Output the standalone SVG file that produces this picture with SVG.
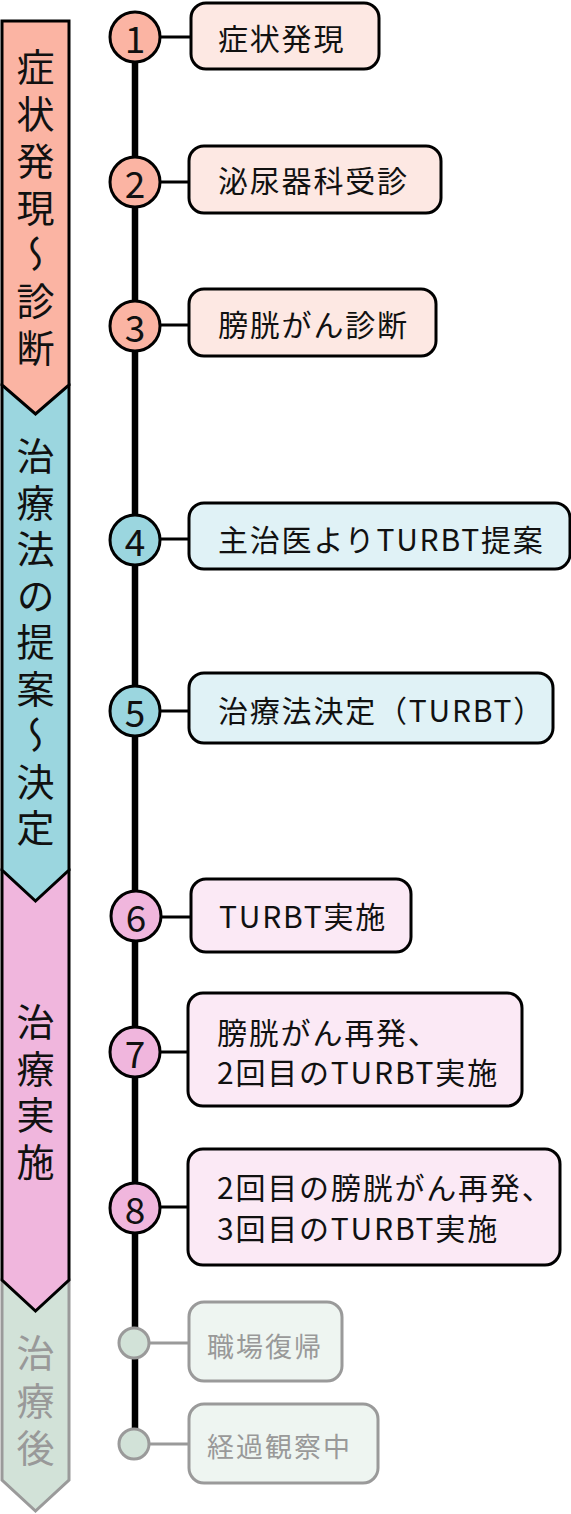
<svg xmlns="http://www.w3.org/2000/svg" width="571" height="1514" viewBox="0 0 571 1514">
<style>
text{font-family:"Noto Sans CJK JP","Noto Sans",sans-serif;}
.band{stroke:#000;stroke-width:3;stroke-linejoin:miter;}
.bt{font-size:38px;fill:#111;}
.bx{stroke:#000;stroke-width:3;}
.t{font-size:30px;fill:#111;letter-spacing:1.8px;dominant-baseline:central;}
.num{font-size:37px;fill:#111;text-anchor:middle;dominant-baseline:central;}
.c{stroke:#000;stroke-width:3;}
.s1{fill:#fbb4a3;}.s2{fill:#9bd6df;}.s3{fill:#f0b6dd;}
.b1{fill:#fde8e3;}.b2{fill:#e0f2f6;}.b3{fill:#fbe9f5;}
.gray{fill:#d2e2d8;stroke:#9a9a9a;stroke-width:3;}
.gbx{fill:#eef5f1;stroke:#9a9a9a;stroke-width:3;}
.gt{font-size:27px;fill:#999;letter-spacing:2px;dominant-baseline:central;}
.conn{stroke:#000;stroke-width:3;}
.gconn{stroke:#9a9a9a;stroke-width:3;}
</style>

<g id="bands">
  <g id="band-after">
    <polygon class="gray" points="2,1280 69,1280 69,1480 35.5,1511 2,1480"/>
    <text class="bt" x="35.5" y="1334" writing-mode="vertical-rl" style="fill:#999;letter-spacing:9.5px">治療後</text>
  </g>
  <g id="band-treatment">
    <polygon class="band s3" points="2,870 69,870 69,1280 35.5,1311 2,1280"/>
    <text class="bt" x="35.5" y="1003" writing-mode="vertical-rl" style="letter-spacing:8.5px">治療実施</text>
  </g>
  <g id="band-decision">
    <polygon class="band s2" points="2,385 69,385 69,870 35.5,901 2,870"/>
    <text class="bt" x="35.5" y="437" writing-mode="vertical-rl" style="letter-spacing:8.5px">治療法の提案〜決定</text>
  </g>
  <g id="band-diagnosis">
    <polygon class="band s1" points="2,21 69,21 69,385 35.5,414 2,385"/>
    <text class="bt" x="35.5" y="48" writing-mode="vertical-rl" style="letter-spacing:8.7px">症状発現〜診断</text>
  </g>
</g>

<g id="connectors">
  <line x1="135" y1="37" x2="135" y2="1444" stroke="#000" stroke-width="6.5"/>
  <line class="conn" x1="135" y1="37" x2="191" y2="37"/>
  <line class="conn" x1="135" y1="182" x2="189" y2="182"/>
  <line class="conn" x1="135" y1="325" x2="189" y2="325"/>
  <line class="conn" x1="135" y1="539" x2="189" y2="539"/>
  <line class="conn" x1="135" y1="711" x2="189" y2="711"/>
  <line class="conn" x1="135" y1="917" x2="191" y2="917"/>
  <line class="conn" x1="135" y1="1052" x2="188" y2="1052"/>
  <line class="conn" x1="135" y1="1207" x2="188" y2="1207"/>
  <line class="gconn" x1="135" y1="1343" x2="189" y2="1343"/>
  <line class="gconn" x1="135" y1="1444" x2="189" y2="1444"/>
</g>

<g id="n1">
  <circle class="c s1" cx="135" cy="37" r="25"/>
  <text class="num" x="135" y="37">1</text>
  <rect class="bx b1" x="191" y="3" width="188" height="66" rx="15"/>
  <text class="t" x="218" y="37">症状発現</text>
</g>
<g id="n2">
  <circle class="c s1" cx="135" cy="182" r="25"/>
  <text class="num" x="135" y="182">2</text>
  <rect class="bx b1" x="189" y="146" width="252" height="67" rx="15"/>
  <text class="t" x="218" y="179">泌尿器科受診</text>
</g>
<g id="n3">
  <circle class="c s1" cx="135" cy="326" r="25"/>
  <text class="num" x="135" y="326">3</text>
  <rect class="bx b1" x="189" y="289" width="247" height="67" rx="15"/>
  <text class="t" x="218" y="323">膀胱がん診断</text>
</g>
<g id="n4">
  <circle class="c s2" cx="135" cy="540" r="25"/>
  <text class="num" x="135" y="540">4</text>
  <rect class="bx b2" x="189" y="503" width="381" height="66" rx="15"/>
  <text class="t" x="218" y="538">主治医よりTURBT提案</text>
</g>
<g id="n5">
  <circle class="c s2" cx="135" cy="711" r="25"/>
  <text class="num" x="135" y="711">5</text>
  <rect class="bx b2" x="189" y="673" width="364" height="70" rx="15"/>
  <text class="t" x="218" y="709">治療法決定（TURBT）</text>
</g>
<g id="n6">
  <circle class="c s3" cx="136" cy="916" r="25"/>
  <text class="num" x="136" y="916">6</text>
  <rect class="bx b3" x="191" y="879" width="220" height="73" rx="15"/>
  <text class="t" x="219" y="915">TURBT実施</text>
</g>
<g id="n7">
  <circle class="c s3" cx="135" cy="1052" r="25"/>
  <text class="num" x="135" y="1052">7</text>
  <rect class="bx b3" x="188" y="993" width="334" height="113" rx="15"/>
  <text class="t" x="217" y="1031">膀胱がん再発、</text>
  <text class="t" x="217" y="1071">2回目のTURBT実施</text>
</g>
<g id="n8">
  <circle class="c s3" cx="135" cy="1208" r="25"/>
  <text class="num" x="135" y="1208">8</text>
  <rect class="bx b3" x="188" y="1149" width="372" height="116" rx="15"/>
  <text class="t" x="217" y="1186">2回目の膀胱がん再発、</text>
  <text class="t" x="217" y="1227">3回目のTURBT実施</text>
</g>
<g id="n9">
  <circle class="gray" cx="134" cy="1343" r="15"/>
  <rect class="gbx" x="189" y="1302" width="153" height="79" rx="15"/>
  <text class="gt" x="207" y="1345">職場復帰</text>
</g>
<g id="n10">
  <circle class="gray" cx="134" cy="1444" r="15"/>
  <rect class="gbx" x="189" y="1404" width="189" height="79" rx="15"/>
  <text class="gt" x="207" y="1445">経過観察中</text>
</g>
</svg>
